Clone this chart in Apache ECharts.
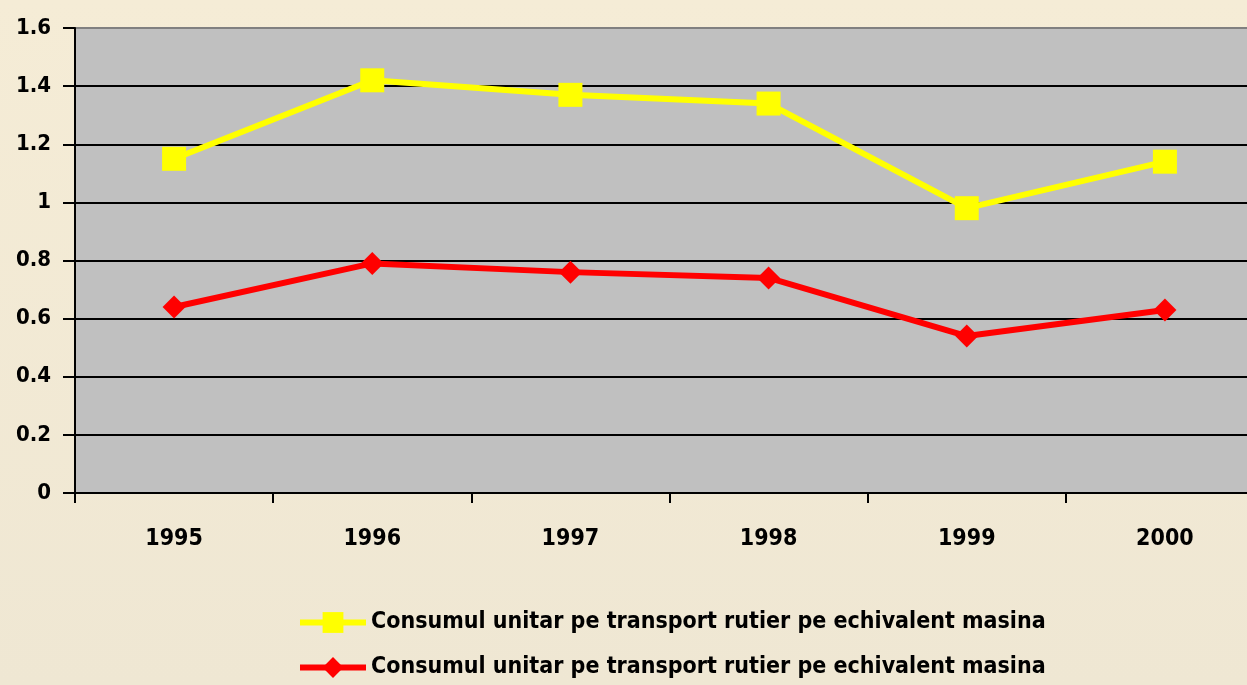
<!DOCTYPE html>
<html><head><meta charset="utf-8">
<script src="https://cdn.jsdelivr.net/npm/echarts@6/dist/echarts.min.js"></script>
<style>html,body{margin:0;padding:0;overflow:hidden;width:1247px;height:685px;}#c{width:1264px;height:685px;}</style>
</head><body><div id="c"></div>
<script>
const categories = ['1995','1996','1997','1998','1999','2000'];
const seriesYellow = [1.15, 1.42, 1.37, 1.34, 0.98, 1.14];
const seriesRed = [0.64, 0.79, 0.76, 0.74, 0.54, 0.63];
const nameYellow = 'Consumul unitar pe transport rutier pe echivalent masina';
const nameRed = 'Consumul unitar pe transport rutier pe echivalent masina ';
const FONT = '"DejaVu Sans Condensed", "DejaVu Sans", sans-serif';
const chart = echarts.init(document.getElementById('c'));
chart.setOption({
  animation: false,
  backgroundColor: {type:'linear', x:0, y:0, x2:0, y2:1, colorStops:[{offset:0,color:'#F5ECD6'},{offset:1,color:'#EFE7D3'}]},
  textStyle: {fontFamily: FONT},
  grid: {left: 75, top: 28, right: 0, bottom: 192, show: true, backgroundColor: '#C0C0C0', borderWidth: 0},
  legend: {
    orient: 'vertical', left: 297, top: 611, padding: 0, itemWidth: 66, itemHeight: 26, itemGap: 22,
    lineStyle: {width: 6},
    textStyle: {fontFamily: FONT, fontSize: 23, fontWeight: 'bold', color: '#000'},
    data: [nameYellow, nameRed]
  },
  xAxis: {
    type: 'category', data: categories, boundaryGap: true,
    axisLine: {lineStyle: {color: '#000', width: 2}},
    axisTick: {show: true, length: 10, lineStyle: {color: '#000', width: 2}},
    axisLabel: {color: '#000', fontSize: 23, fontWeight: 'bold', margin: 35, fontFamily: FONT}
  },
  yAxis: {
    type: 'value', min: 0, max: 1.6, interval: 0.2,
    axisLine: {show: true, lineStyle: {color: '#000', width: 2}},
    axisTick: {show: true, length: 12, lineStyle: {color: '#000', width: 2}},
    axisLabel: {color: '#000', fontSize: 22, fontWeight: 'bold', margin: 24, fontFamily: FONT,
      formatter: v => String(Math.round(v*10)/10)},
    splitLine: {show: true, lineStyle: {color: ['#000','#000','#000','#000','#000','#000','#000','#000','#808080'], width: 2}}
  },
  series: [
    {name: nameYellow, type: 'line', data: seriesYellow, symbol: 'rect', symbolSize: 24,
     lineStyle: {color: '#FFFF00', width: 6}, itemStyle: {color: '#FFFF00'}},
    {name: nameRed, type: 'line', data: seriesRed, symbol: 'diamond', symbolSize: 23,
     lineStyle: {color: '#FF0000', width: 6}, itemStyle: {color: '#FF0000'}}
  ]
});
</script></body></html>
